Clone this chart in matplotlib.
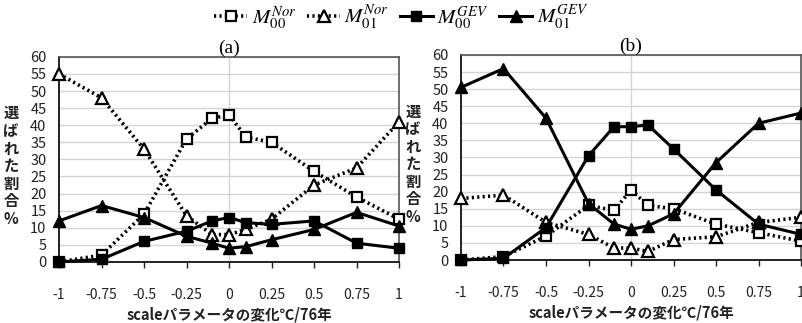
import matplotlib
matplotlib.use('Agg')
import matplotlib.pyplot as plt

plt.rcParams['font.family'] = ['Noto Sans CJK JP', 'DejaVu Sans']
plt.rcParams['mathtext.fontset'] = 'stix'

# scale parameter change (degC / 76 years)
x = [-1, -0.75, -0.5, -0.25, -0.1, 0, 0.1, 0.25, 0.5, 0.75, 1]
xticks = [-1, -0.75, -0.5, -0.25, 0, 0.25, 0.5, 0.75, 1]
xticklabels = ['-1', '-0.75', '-0.5', '-0.25', '0', '0.25', '0.5', '0.75', '1']

# panel (a)
a_m00_nor = [0, 2, 14, 36, 42, 43, 36.5, 35, 26.5, 19, 12.5]
a_m01_nor = [55, 48, 33, 13.5, 8, 8, 9.5, 12.5, 22.5, 27.5, 41]
a_m00_gev = [0, 0.8, 6, 9, 12, 13, 11.5, 11, 12, 5.5, 4]
a_m01_gev = [12, 16.5, 13, 7.5, 5.5, 4, 4.5, 6.5, 9.5, 14.5, 10.5]

# panel (b)
b_m00_nor = [0, 1, 7, 16, 14.5, 20.5, 16, 15, 10.5, 8, 5.5]
b_m01_nor = [18, 19, 11, 7.5, 3.5, 3.5, 2.5, 6, 6.8, 11, 12.5]
b_m00_gev = [0, 0.5, 9.5, 30.5, 39, 39, 39.5, 32.5, 20.5, 10.5, 7.5]
b_m01_gev = [50.5, 56, 41.5, 16.5, 10.5, 9, 10, 13.5, 28.5, 40, 43]

labels = [r'$M_{00}^{Nor}$', r'$M_{01}^{Nor}$', r'$M_{00}^{GEV}$', r'$M_{01}^{GEV}$']
ylab = '\n'.join(['選', 'ば', 'れ', 'た', '割', '合', '%'])
xlab = 'scaleパラメータの変化℃/76年'

fig = plt.figure(figsize=(8.02, 3.23), dpi=100)
ax1 = fig.add_axes([0.0736, 0.189, 0.424, 0.635])
ax2 = fig.add_axes([0.5748, 0.195, 0.424, 0.635])


def draw(ax, m00n, m01n, m00g, m01g, title):
    lines = []
    lines += ax.plot(x, m00n, ls=(0, (0.6, 0.9)), lw=2.6, color='black', marker='s',
                     ms=7, mfc='white', mec='black', mew=1.6, clip_on=False, zorder=3)
    lines += ax.plot(x, m01n, ls=(0, (0.6, 0.9)), lw=2.6, color='black', marker='^',
                     ms=8.5, mfc='white', mec='black', mew=1.6, clip_on=False, zorder=3)
    lines += ax.plot(x, m00g, ls='-', lw=2.2, color='black', marker='s',
                     ms=7, mfc='black', mec='black', clip_on=False, zorder=4)
    lines += ax.plot(x, m01g, ls='-', lw=2.2, color='black', marker='^',
                     ms=8.5, mfc='black', mec='black', clip_on=False, zorder=4)
    ax.set_xlim(-1, 1)
    ax.set_ylim(0, 60)
    ax.set_yticks(range(0, 61, 5))
    ax.set_xticks(xticks)
    ax.set_xticklabels(xticklabels)
    ax.tick_params(axis='y', length=0, pad=9, labelsize=10.5, colors='#222222')
    ax.tick_params(axis='x', length=4, width=1, direction='out', pad=15,
                   labelsize=10, colors='#222222')
    ax.grid(axis='y', color='#d4d4d4', lw=1, zorder=0)
    ax.axvline(0, color='#d4d4d4', lw=1, zorder=0)
    for s in ['top', 'right']:
        ax.spines[s].set_color('#555555')
        ax.spines[s].set_linewidth(1.2)
    for s in ['left', 'bottom']:
        ax.spines[s].set_color('#222222')
        ax.spines[s].set_linewidth(1.4)
    ax.set_xlabel(xlab, fontsize=10.5, labelpad=3, fontweight='bold', color='#222222')
    ax.set_title(title, family='Liberation Serif', fontsize=14, pad=1)
    return lines


lines = draw(ax1, a_m00_nor, a_m01_nor, a_m00_gev, a_m01_gev, '(a)')
draw(ax2, b_m00_nor, b_m01_nor, b_m00_gev, b_m01_gev, '(b)')

fig.text(0.0137, 0.486, ylab, ha='center', va='center', fontsize=11,
         fontweight='bold', linespacing=1.12, color='#222222')
fig.text(0.515, 0.492, ylab, ha='center', va='center', fontsize=11,
         fontweight='bold', linespacing=1.12, color='#222222')

fig.legend(lines, labels, loc='upper center', bbox_to_anchor=(0.5, 1.02), ncol=4,
           frameon=False, fontsize=15, handlelength=1.6, handletextpad=0.2,
           columnspacing=0.5, borderaxespad=0.1)

fig.savefig('out.png', dpi=100)
